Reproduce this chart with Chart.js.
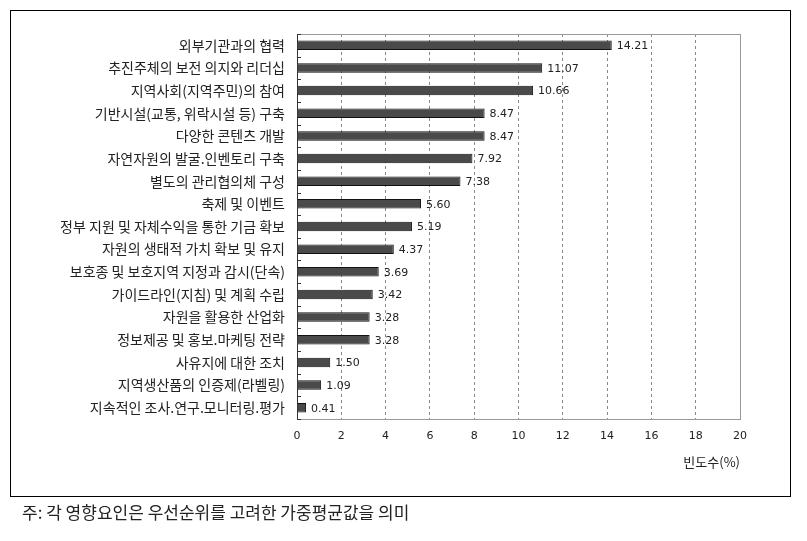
<!DOCTYPE html>
<html>
<head>
<meta charset="utf-8">
<script src="https://cdn.jsdelivr.net/npm/chart.js@4"></script>
<style>
  body { margin: 0; background: #fff; }
  #wrap { position: relative; width: 807px; height: 541px; }
  #box { position: absolute; left: 10px; top: 10px; width: 779px; height: 485px; border: 1.5px solid #000; }
  #chart { position: absolute; left: 0; top: 0; }
  #note { position: absolute; left: 22px; top: 499px; font: 17px "Noto Sans CJK KR", sans-serif; color: #222; }
</style>
</head>
<body>
<div id="wrap">
  <div id="box"></div>
  <canvas id="chart" width="807" height="541"></canvas>
  <div id="note">주: 각 영향요인은 우선순위를 고려한 가중평균값을 의미</div>
</div>
<script>
const categories = [
    "외부기관과의 협력",
    "추진주체의 보전 의지와 리더십",
    "지역사회(지역주민)의 참여",
    "기반시설(교통, 위락시설 등) 구축",
    "다양한 콘텐츠 개발",
    "자연자원의 발굴.인벤토리 구축",
    "별도의 관리협의체 구성",
    "축제 및 이벤트",
    "정부 지원 및 자체수익을 통한 기금 확보",
    "자원의 생태적 가치 확보 및 유지",
    "보호종 및 보호지역 지정과 감시(단속)",
    "가이드라인(지침) 및 계획 수립",
    "자원을 활용한 산업화",
    "정보제공 및 홍보.마케팅 전략",
    "사유지에 대한 조치",
    "지역생산품의 인증제(라벨링)",
    "지속적인 조사.연구.모니터링.평가"
];
const values = [14.21, 11.07, 10.66, 8.47, 8.47, 7.92, 7.38, 5.60, 5.19, 4.37, 3.69, 3.42, 3.28, 3.28, 1.50, 1.09, 0.41];
const xMin = 0, xMax = 20, xStep = 2;
const axisTitle = "빈도수(%)";

// frame around plot area + short inward ticks between categories
const framePlugin = {
    id: 'frame',
    beforeDatasetsDraw(chart) {
        const { ctx, chartArea: a, scales } = chart;
        ctx.save();
        ctx.strokeStyle = '#999';
        ctx.lineWidth = 1;
        ctx.strokeRect(a.left + 0.5, a.top + 0.5, a.right - a.left, a.bottom - a.top);
        ctx.strokeStyle = '#333';
        ctx.beginPath();
        ctx.moveTo(a.left + 0.5, a.top);
        ctx.lineTo(a.left + 0.5, a.bottom + 1);
        for (let i = 0; i <= categories.length; i++) {
            const y = Math.round(scales.y.getPixelForValue(i - 0.5)) + 0.5;
            ctx.moveTo(a.left, y);
            ctx.lineTo(a.left + 4, y);
        }
        ctx.stroke();
        ctx.restore();
    }
};

const valueLabels = {
    id: 'valueLabels',
    afterDatasetsDraw(chart) {
        const { ctx } = chart;
        const meta = chart.getDatasetMeta(0);
        ctx.save();
        ctx.font = '11px "DejaVu Sans", sans-serif';
        ctx.fillStyle = '#222';
        ctx.textBaseline = 'middle';
        meta.data.forEach((bar, i) => {
            ctx.fillText(values[i].toFixed(2), bar.x + 5, bar.y + 1);
        });
        ctx.restore();
    }
};

new Chart(document.getElementById('chart'), {
    type: 'bar',
    data: {
        labels: categories,
        datasets: [{
            data: values,
            backgroundColor: '#4a4a4a',
            borderColor: '#111',
            borderWidth: 1,
            barPercentage: 0.42,
            categoryPercentage: 1
        }]
    },
    options: {
        indexAxis: 'y',
        responsive: false,
        animation: false,
        layout: { padding: { left: 10, right: 67, top: 34, bottom: 0 } },
        plugins: { legend: { display: false }, tooltip: { enabled: false } },
        scales: {
            x: {
                min: xMin, max: xMax,
                ticks: { stepSize: xStep, padding: 11, color: '#222', font: { family: '"DejaVu Sans", sans-serif', size: 11 } },
                grid: {
                    drawTicks: false,
                    color: ctx => (ctx.tick && (ctx.tick.value === xMin || ctx.tick.value === xMax)) ? 'rgba(0,0,0,0)' : '#888'
                },
                border: { display: false, dash: [3, 3] },
                title: { display: true, text: axisTitle, align: 'end', color: '#222', padding: { top: 0, bottom: 71 }, font: { family: '"Noto Sans CJK KR", sans-serif', size: 13 } },
                afterFit: s => { s.height = 122; }
            },
            y: {
                ticks: { padding: 12, color: '#222', font: { family: '"Noto Sans CJK KR", sans-serif', size: 14 } },
                grid: { display: false, drawTicks: false },
                border: { display: false },
                afterFit: s => { s.width = 287; }
            }
        }
    },
    plugins: [framePlugin, valueLabels]
});
</script>
</body>
</html>
